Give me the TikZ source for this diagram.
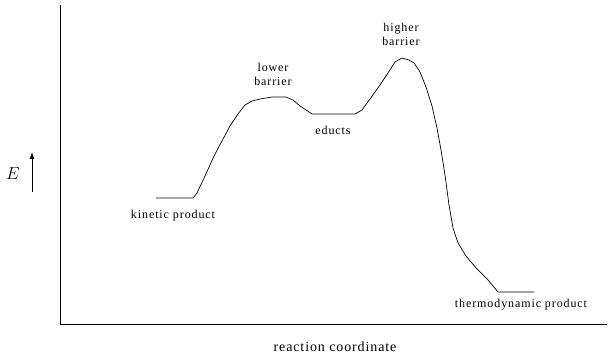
\documentclass[tikz,border=0pt]{standalone}
\usepackage{fontspec}
\usetikzlibrary{arrows.meta}
\setmainfont{Liberation Serif}
\newfontfamily\lblfont[LetterSpace=7.5]{Liberation Serif}
\newfontfamily\axfont[LetterSpace=6.3]{Liberation Serif}
\begin{document}
\begin{tikzpicture}[x=1pt,y=-1pt,
  lbl/.style={font=\lblfont\fontsize{12}{14}\selectfont, inner sep=0pt, align=center},
  axis/.style={line width=0.9pt},
  curve/.style={line width=0.7pt, line join=round}]
\useasboundingbox (0,0) rectangle (611,363);
\coordinate (ytop) at (60,5);
\coordinate (orig) at (60,324);
\coordinate (xend) at (607,324);
\draw[axis] (ytop) -- (orig) -- (xend);
\coordinate (ea) at (32,192);
\coordinate (eb) at (32,152);
\draw[line width=0.9pt,-{Latex[length=7pt,width=5pt]}] (ea) -- (eb);
\node[font=\fontsize{19}{21}\selectfont, inner sep=0pt] (E) at (13,174) {$E$};
\draw[curve] (156,198) -- (193,198) -- (197,193) -- (205,176) -- (214,156) -- (222,141)
  -- (230,126) -- (238,114) -- (245,105) -- (252,101) -- (260,99) -- (272,97) -- (286,97)
  -- (293,100) -- (300,106) -- (306,110) -- (312,114) -- (355,114) -- (362,110)
  -- (370,99) -- (380,85) -- (388,73) -- (395,62) -- (402,58) -- (409,60) -- (414,63)
  -- (420,72) -- (426,87) -- (432,106) -- (437,128) -- (441,150) -- (445,175)
  -- (449,205) -- (453,228) -- (458,243) -- (466,256) -- (476,268) -- (488,280)
  -- (498,292) -- (534,292);
\node[lbl] (kp) at (173,216) {kinetic product};
\node[lbl] (lb) at (273,74) {lower\\barrier};
\node[lbl] (ed) at (333,130) {educts};
\node[lbl] (hb) at (401,34) {higher\\barrier};
\node[lbl] (tp) at (521,305) {thermodynamic product};
\node[font=\axfont\fontsize{14}{16}\selectfont, inner sep=0pt] (rc) at (335,347) {reaction coordinate};
\end{tikzpicture}
\end{document}
